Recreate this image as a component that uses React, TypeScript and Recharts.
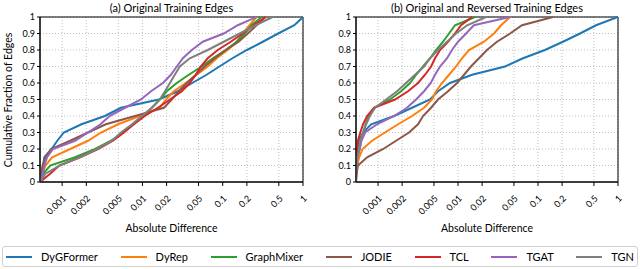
import React from "react";
import { LineChart, Line, XAxis, YAxis, CartesianGrid, ReferenceArea } from "recharts";

// cumulative fraction of edges (y) for every quantile row below
const FRACTIONS = [0, 0.05, 0.1, 0.15, 0.2, 0.25, 0.3, 0.35, 0.4, 0.45, 0.5, 0.55, 0.6, 0.65, 0.7, 0.75, 0.8, 0.85, 0.9, 0.95, 1];

const MODELS = ["DyGFormer", "DyRep", "GraphMixer", "JODIE", "TCL", "TGAT", "TGN"];
const COLORS = ["#1f77b4", "#ff7f0e", "#2ca02c", "#8c564b", "#d62728", "#9467bd", "#7f7f7f"];

const X_MIN = 0.00053;
const X_TICKS = [0.001, 0.002, 0.005, 0.01, 0.02, 0.05, 0.1, 0.2, 0.5, 1];
const Y_TICKS = [0, 0.1, 0.2, 0.3, 0.4, 0.5, 0.6, 0.7, 0.8, 0.9, 1];

// (a) Original Training Edges: absolute difference reached at each fraction
const origDyGFormer = [0.00053, 0.00055, 0.00058, 0.0006, 0.00074, 0.00087, 0.00105, 0.00174, 0.0034, 0.0054, 0.016, 0.0275, 0.0417, 0.063, 0.091, 0.132, 0.2, 0.316, 0.49, 0.78, 1];
const origDyRep = [0.00053, 0.00057, 0.00062, 0.00075, 0.00126, 0.0021, 0.00305, 0.00496, 0.0093, 0.0165, 0.0196, 0.0246, 0.0347, 0.0475, 0.0651, 0.0842, 0.115, 0.149, 0.177, 0.216, 0.264];
const origGraphMixer = [0.00053, 0.00058, 0.00071, 0.00145, 0.00257, 0.00406, 0.00573, 0.00762, 0.0101, 0.0131, 0.0165, 0.0201, 0.0268, 0.0378, 0.0548, 0.0752, 0.109, 0.149, 0.188, 0.229, 0.305];
const origJODIE = [0.00053, 0.00055, 0.00057, 0.00062, 0.00073, 0.00126, 0.0021, 0.0035, 0.0081, 0.0185, 0.0232, 0.0284, 0.0357, 0.0462, 0.0597, 0.0796, 0.109, 0.158, 0.205, 0.264, 0.342];
const origTCL = [0.00053, 0.00071, 0.00092, 0.00167, 0.0028, 0.0043, 0.00589, 0.00784, 0.0107, 0.0156, 0.022, 0.031, 0.0389, 0.0462, 0.0533, 0.0651, 0.0867, 0.126, 0.177, 0.243, 0.342];
const origTGAT = [0.00053, 0.00057, 0.0006, 0.00065, 0.00077, 0.00145, 0.0021, 0.003, 0.0039, 0.00606, 0.00958, 0.0128, 0.018, 0.0226, 0.0268, 0.0319, 0.0412, 0.0565, 0.103, 0.154, 0.264];
const origTGN = [0.00053, 0.00062, 0.00094, 0.00167, 0.00272, 0.00418, 0.00541, 0.00741, 0.00986, 0.0131, 0.0165, 0.0191, 0.022, 0.0253, 0.0292, 0.0389, 0.0651, 0.103, 0.163, 0.257, 0.418];

// (b) Original and Reversed Training Edges
const bothDyGFormer = [0.00053, 0.00053, 0.00053, 0.00054, 0.00055, 0.00057, 0.00065, 0.00082, 0.00159, 0.00266, 0.00447, 0.00562, 0.00794, 0.015, 0.0387, 0.065, 0.122, 0.205, 0.335, 0.531, 1];
const bothDyRep = [0.00053, 0.00054, 0.00055, 0.00058, 0.00064, 0.00084, 0.00122, 0.00178, 0.00266, 0.00376, 0.00473, 0.00531, 0.00631, 0.00772, 0.00944, 0.0112, 0.0137, 0.0211, 0.0282, 0.0345, 0.0447];
const bothGraphMixer = [0.00053, 0.00053, 0.00054, 0.00055, 0.00059, 0.00061, 0.00065, 0.0007, 0.00077, 0.00089, 0.00141, 0.00194, 0.00251, 0.00299, 0.00365, 0.00447, 0.00531, 0.00649, 0.00772, 0.00917, 0.0163];
const bothJODIE = [0.00053, 0.00054, 0.00056, 0.00073, 0.00116, 0.00168, 0.00244, 0.00316, 0.00365, 0.0046, 0.00562, 0.0075, 0.00972, 0.0119, 0.0145, 0.0183, 0.023, 0.0307, 0.0447, 0.0631, 0.154];
const bothTCL = [0.00053, 0.00053, 0.00053, 0.00054, 0.00055, 0.00056, 0.0006, 0.00065, 0.00073, 0.00089, 0.00163, 0.00237, 0.00316, 0.00387, 0.0046, 0.00516, 0.00596, 0.0075, 0.00917, 0.0109, 0.015];
const bothTGAT = [0.00053, 0.00053, 0.00054, 0.00055, 0.00059, 0.00062, 0.00069, 0.00097, 0.00159, 0.0023, 0.00299, 0.00376, 0.00456, 0.00516, 0.00596, 0.00729, 0.00841, 0.01, 0.0126, 0.0158, 0.0447];
const bothTGN = [0.00053, 0.00053, 0.00054, 0.00055, 0.00058, 0.0006, 0.00065, 0.00071, 0.00079, 0.00092, 0.00126, 0.00173, 0.00224, 0.0029, 0.00376, 0.00447, 0.00562, 0.00729, 0.00944, 0.013, 0.0224];

const PANEL_A = [origDyGFormer, origDyRep, origGraphMixer, origJODIE, origTCL, origTGAT, origTGN];
const PANEL_B = [bothDyGFormer, bothDyRep, bothGraphMixer, bothJODIE, bothTCL, bothTGAT, bothTGN];

const FONT = "Lato, 'Open Sans', sans-serif";

const toPoints = (xs: number[]) => xs.map((x, i) => ({ x, y: FRACTIONS[i] }));

const XTick = ({ x, y, payload }: any) => {
  const ax = x + 4.5;
  const ay = y + 11;
  return (
    <text x={ax} y={ay} transform={`rotate(-45 ${ax} ${ay})`} textAnchor="end" fontSize={9} fill="#000">
      {String(payload.value)}
    </text>
  );
};

function Panel({ series, title, yAxisWidth, marginRight, left, showYLabel }: {
  series: number[][]; title: string; yAxisWidth: number; marginRight: number; left: number; showYLabel?: boolean;
}) {
  const plotLeft = yAxisWidth;
  const plotRight = 320 - marginRight;
  const center = (plotLeft + plotRight) / 2;
  return (
    <div style={{ position: "absolute", left, top: 0, width: 320, height: 245 }}>
      <div style={{ position: "absolute", left: center - 150, width: 300, top: 1, textAlign: "center", fontSize: 11, lineHeight: "14px" }}>
        {title}
      </div>
      <div style={{ position: "absolute", left: center - 100, width: 200, top: 221, textAlign: "center", fontSize: 10.5, lineHeight: "14px" }}>
        Absolute Difference
      </div>
      {showYLabel && (
        <div style={{ position: "absolute", left: 8 - 100, top: 100 - 7, width: 200, textAlign: "center", fontSize: 10.5, lineHeight: "14px", transform: "rotate(-90deg)" }}>
          Cumulative Fraction of Edges
        </div>
      )}
      <LineChart width={320} height={245} margin={{ top: 17, right: marginRight, bottom: 0, left: 0 }} style={{ position: "absolute", left: 0, top: 0 }}>
        <CartesianGrid stroke="#b0b0b0" strokeDasharray="1 2" strokeWidth={0.8} />
        <XAxis
          dataKey="x"
          type="number"
          scale="log"
          domain={[X_MIN, 1]}
          allowDataOverflow
          ticks={X_TICKS}
          tick={<XTick />}
          tickSize={4}
          height={63}
          stroke="#000"
          interval={0}
        />
        <YAxis
          dataKey="y"
          type="number"
          domain={[0, 1]}
          ticks={Y_TICKS}
          width={yAxisWidth}
          tickSize={3}
          tickMargin={2}
          stroke="#000"
          tick={{ fontSize: 9, fill: "#000" }}
          interval={0}
        />
        <ReferenceArea x1={X_MIN} x2={1} y1={0} y2={1} fill="none" stroke="#000" strokeWidth={1} ifOverflow="visible" />
        {series.map((xs, i) => (
          <Line
            key={MODELS[i]}
            data={toPoints(xs)}
            dataKey="y"
            type="linear"
            stroke={COLORS[i]}
            strokeWidth={2}
            dot={false}
            activeDot={false}
            isAnimationActive={false}
          />
        ))}
      </LineChart>
    </div>
  );
}

export default function App() {
  return (
    <div style={{ position: "absolute", left: 0, top: 0, width: 640, height: 269, background: "#fff", fontFamily: FONT, color: "#000" }}>
      <Panel series={PANEL_A} title="(a) Original Training Edges" yAxisWidth={40} marginRight={17} left={0} showYLabel />
      <Panel series={PANEL_B} title="(b) Original and Reversed Training Edges" yAxisWidth={36} marginRight={22} left={320} />
      <div
        style={{
          position: "absolute", left: 2, top: 246, width: 636, height: 21,
          border: "1px solid #cfcfcf", borderRadius: 3,
          display: "flex", alignItems: "center", justifyContent: "space-between",
          padding: "0 3px 0 3px", boxSizing: "border-box", fontSize: 11,
        }}
      >
        {MODELS.map((m, i) => (
          <div key={m} style={{ display: "flex", alignItems: "center" }}>
            <span style={{ display: "inline-block", width: 26, height: 2, background: COLORS[i], marginRight: 9 }} />
            <span>{m}</span>
          </div>
        ))}
      </div>
    </div>
  );
}
